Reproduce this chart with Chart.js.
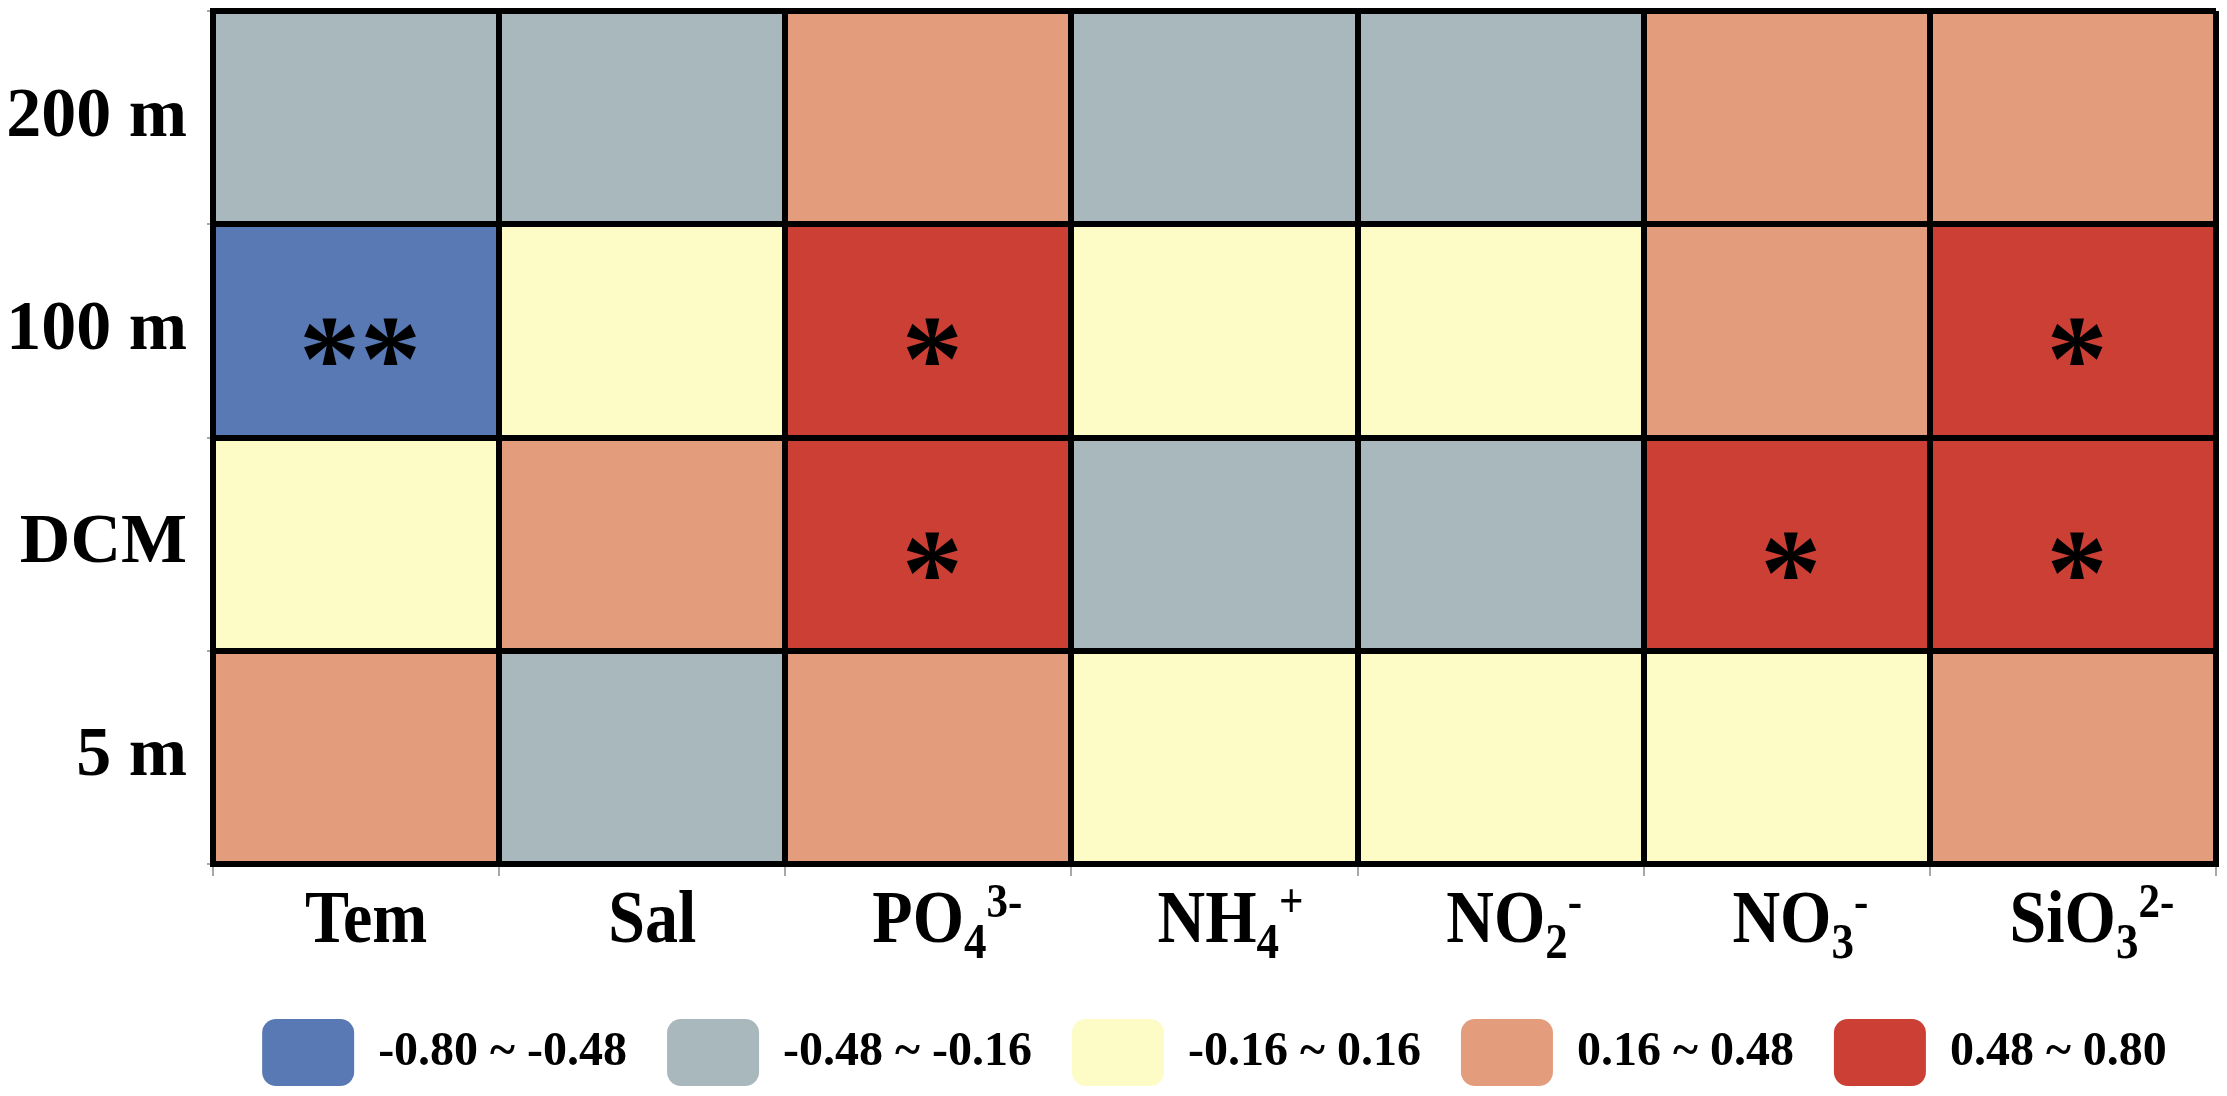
<!DOCTYPE html>
<html>
<head>
<meta charset="utf-8">
<script src="https://cdn.jsdelivr.net/npm/chart.js@4.4.0/dist/chart.umd.min.js"></script>
<style>
html,body{margin:0;padding:0;background:#fff;}
#wrap{width:2227px;height:1096px;position:relative;}
</style>
</head>
<body>
<div id="wrap"><canvas id="c"></canvas></div>
<script>
// ---- data ----
const variables = ['Tem','Sal','PO4','NH4','NO2','NO3','SiO3'];
const labelBase = ['Tem','Sal','PO','NH','NO','NO','SiO'];
const labelSub  = ['','','4','4','2','3','3'];
const labelSup  = ['','','3-','+','-','-','2-'];
const depths = ['200 m','100 m','DCM','5 m'];
// estimated correlation coefficients (read as class of each cell)
const r200 = [-0.32,-0.32, 0.32,-0.32,-0.32, 0.32, 0.32];
const r100 = [-0.64, 0.00, 0.64, 0.00, 0.00, 0.32, 0.64];
const rDCM = [ 0.00, 0.32, 0.64,-0.32,-0.32, 0.64, 0.64];
const r5   = [ 0.32,-0.32, 0.32, 0.00, 0.00, 0.00, 0.32];
// significance marks
const sig200 = ['','','','','','',''];
const sig100 = ['**','','*','','','','*'];
const sigDCM = ['','','*','','','*','*'];
const sig5   = ['','','','','','',''];
const classBreaks = [-0.80,-0.48,-0.16,0.16,0.48,0.80];
const classLabels = ['-0.80 ~ -0.48','-0.48 ~ -0.16','-0.16 ~ 0.16','0.16 ~ 0.48','0.48 ~ 0.80'];
const classColors = ['#5879B3','#A8B8BC','#FDFBC6','#E39D7D','#CB3F35'];

const FAM = '"Liberation Serif","Times New Roman",serif';

function colorFor(v){
  for(let k=0;k<classColors.length;k++){
    if(v>=classBreaks[k] && v<classBreaks[k+1]) return classColors[k];
  }
  return classColors[classColors.length-1];
}

// stacked from bottom: 5 m, DCM, 100 m, 200 m
const rows = [
  {name:'5 m', vals:r5, sig:sig5},
  {name:'DCM', vals:rDCM, sig:sigDCM},
  {name:'100 m', vals:r100, sig:sig100},
  {name:'200 m', vals:r200, sig:sig200}
];

const datasets = rows.map(r => ({
  label: r.name,
  data: r.vals.map(() => 1),
  corr: r.vals,
  sig: r.sig,
  backgroundColor: r.vals.map(colorFor),
  borderWidth: 0,
  barPercentage: 1,
  categoryPercentage: 1,
  xAxisID: 'x',
  yAxisID: 'y'
}));

const starPlugin = {
  id:'stars',
  afterDatasetsDraw(chart){
    const ctx = chart.ctx;
    ctx.save();
    ctx.fillStyle = '#000';
    ctx.textAlign = 'center';
    ctx.textBaseline = 'alphabetic';
    ctx.font = 'bold 122px ' + FAM;
    chart.data.datasets.forEach((ds, di) => {
      const meta = chart.getDatasetMeta(di);
      meta.data.forEach((el, i) => {
        const s = ds.sig[i];
        if(!s) return;
        const cy = (el.y + el.base)/2 + 11;
        const m = ctx.measureText(s);
        const bl = cy + (m.actualBoundingBoxAscent - m.actualBoundingBoxDescent)/2;
        ctx.fillText(s, el.x + 4, bl);
      });
    });
    ctx.restore();
  }
};

const xLabelPlugin = {
  id:'xLabels',
  afterDraw(chart){
    const ctx = chart.ctx;
    const xs = chart.scales.x;
    const stretch = 1.13;
    const baseF = 'bold 66px ' + FAM, subF = 'bold 45px ' + FAM, supF = 'bold 43px ' + FAM;
    const baseline = chart.chartArea.bottom + 78;
    ctx.save();
    ctx.fillStyle = '#000';
    ctx.textAlign = 'left';
    ctx.textBaseline = 'alphabetic';
    labelBase.forEach((b, i) => {
      ctx.font = baseF; const wb = ctx.measureText(b).width;
      ctx.font = subF; const ws = labelSub[i] ? ctx.measureText(labelSub[i]).width : 0;
      ctx.font = supF; const wp = labelSup[i] ? ctx.measureText(labelSup[i]).width : 0;
      const w = wb + ws + wp/2;
      let cx = xs.getPixelForValue(i) - w/2 + 10;
      const put = (font, txt, x, y) => {
        ctx.save();
        ctx.translate(x, y);
        ctx.scale(1, stretch);
        ctx.font = font;
        ctx.fillText(txt, 0, 0);
        ctx.restore();
      };
      put(baseF, b, cx, baseline); cx += wb;
      if(ws){ put(subF, labelSub[i], cx, baseline + 16); cx += ws; }
      if(wp){ put(supF, labelSup[i], cx, baseline - 25); }
    });
    ctx.restore();
  }
};

new Chart(document.getElementById('c'), {
  type: 'bar',
  data: { labels: variables, datasets: datasets },
  plugins: [starPlugin, xLabelPlugin],
  options: {
    responsive: true,
    maintainAspectRatio: false,
    animation: false,
    layout: { padding: { top: 11, right: 11, left: 0, bottom: 0 } },
    plugins: {
      tooltip: { enabled: false },
      legend: {
        position: 'bottom',
        fullSize: false,
        onClick: () => {},
        labels: {
          boxWidth: 92,
          boxHeight: 67,
          padding: 40,
          color: '#000',
          useBorderRadius: true,
          borderRadius: 14,
          font: { family: FAM, weight: 'bold', size: 48 },
          generateLabels: () => classLabels.map((t, k) => ({
            text: t, fillStyle: classColors[k], strokeStyle: classColors[k],
            lineWidth: 0, hidden: false, borderRadius: 14, fontColor: '#000'
          }))
        }
      }
    },
    scales: {
      x: {
        type: 'category',
        stacked: true,
        offset: true,
        grid: { z: 1, offset: true, color: '#000', lineWidth: 6, drawTicks: true, tickLength: 12, tickColor: '#8a8a8a', tickWidth: 1.5 },
        border: { z: 1, display: true, color: '#000', width: 6 },
        ticks: { display: false },
        afterFit: s => { s.height = 115; s.paddingLeft = 0; s.paddingRight = 0; }
      },
      y: { type: 'linear', display: false, stacked: true, min: 0, max: 4 },
      yLab: {
        type: 'category',
        labels: depths,
        position: 'left',
        offset: true,
        grid: { z: 1, offset: true, color: '#000', lineWidth: 6, drawTicks: true, tickLength: 6, tickColor: '#8a8a8a', tickWidth: 1.5 },
        border: { z: 1, display: true, color: '#000', width: 6 },
        ticks: { color: '#000', padding: 20, font: { family: FAM, weight: 'bold', size: 70 } },
        afterFit: s => { s.width = 213; s.paddingTop = 0; s.paddingBottom = 0; }
      }
    }
  }
});
</script>
</body>
</html>
